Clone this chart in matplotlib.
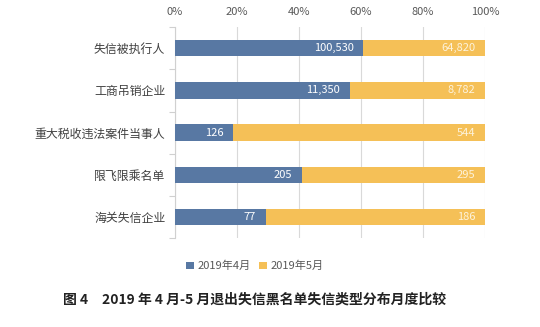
import matplotlib
matplotlib.use("Agg")
import matplotlib.pyplot as plt
import numpy as np
from matplotlib.ticker import FixedLocator

plt.rcParams['font.family'] = ['Noto Sans CJK SC', 'DejaVu Sans']

categories = ["失信被执行人", "工商吊销企业", "重大税收违法案件当事人", "限飞限乘名单", "海关失信企业"]
april = [100530, 11350, 126, 205, 77]
may = [64820, 8782, 544, 295, 186]
series_names = ["2019年4月", "2019年5月"]
xtick_labels = ["0%", "20%", "40%", "60%", "80%", "100%"]
caption = "图 4　2019 年 4 月-5 月退出失信黑名单失信类型分布月度比较"

c_apr = "#5878a3"
c_may = "#f5c057"

a = np.array(april, dtype=float)
m = np.array(may, dtype=float)
tot = a + m
pa = a / tot
pm = m / tot

fig = plt.figure(figsize=(5.4, 3.27), dpi=100)
ax = fig.add_axes([0.324, 0.272, 0.574, 0.645])

y = np.arange(len(categories))
h = 0.39
b1 = ax.barh(y, pa, height=h, color=c_apr, label=series_names[0], zorder=3)
b2 = ax.barh(y, pm, left=pa, height=h, color=c_may, label=series_names[1], zorder=3)

for i in range(len(categories)):
    ax.annotate(f"{april[i]:,}", xy=(pa[i], y[i]), xytext=(-7, 0), textcoords="offset points",
                ha="right", va="center", color="white", fontsize=8, zorder=4)
    ax.annotate(f"{may[i]:,}", xy=(1.0, y[i]), xytext=(-7, 0), textcoords="offset points",
                ha="right", va="center", color="#fdf3dc", fontsize=8, zorder=4)

ax.set_xlim(0, 1)
ax.set_ylim(len(categories) - 0.5, -0.5)
ax.set_xticks(np.linspace(0, 1, 6))
ax.set_xticklabels(xtick_labels)
ax.xaxis.tick_top()
ax.tick_params(axis="x", length=0, pad=7, labelsize=8, labelcolor="#595959")
ax.set_yticks(y)
ax.set_yticklabels(categories)
ax.tick_params(axis="y", which="major", length=0, pad=7, labelsize=8.6, labelcolor="#404040")
ax.yaxis.set_minor_locator(FixedLocator(np.arange(-0.5, len(categories), 1.0)))
ax.tick_params(axis="y", which="minor", length=4, color="#d0d0d0", width=0.8)
ax.grid(axis="x", color="#d9d9d9", linewidth=0.8, zorder=0)
for s in ["top", "right", "bottom"]:
    ax.spines[s].set_visible(False)
ax.spines["left"].set_color("#d0d0d0")
ax.spines["left"].set_linewidth(0.8)

leg = fig.legend(handles=[b1, b2], loc="center", bbox_to_anchor=(0.472, 0.186), ncol=2,
                 frameon=False, fontsize=8, handlelength=0.7, handleheight=0.7,
                 handletextpad=0.3, columnspacing=0.8)
for t in leg.get_texts():
    t.set_color("#595959")

fig.text(0.472, 0.083, caption, ha="center", va="center", fontsize=10, fontweight="bold", color="#222222")

fig.savefig("out.png", dpi=100)
